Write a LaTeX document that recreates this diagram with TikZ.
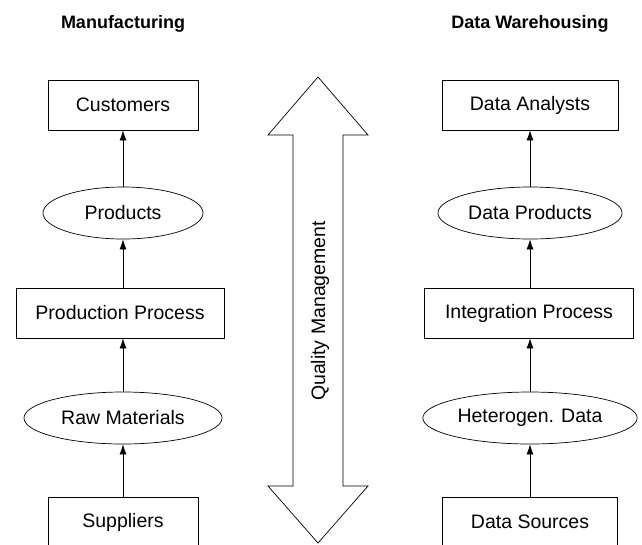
\documentclass[tikz,border=0pt]{standalone}
\usepackage{fontspec}
\setmainfont{Liberation Sans}
\usetikzlibrary{shapes.geometric, arrows.meta}

\begin{document}
\begin{tikzpicture}[x=1pt, y=-1pt,
  font=\fontsize{19.5}{23}\selectfont,
  stage/.style={draw, line width=0.7pt, rectangle, minimum height=50pt},
  goods/.style={draw, line width=0.7pt, ellipse, minimum height=52pt},
  flow/.style={-{Latex[length=10pt,width=7pt]}, line width=0.7pt},
  heading/.style={font=\fontsize{18}{22}\selectfont\bfseries}]
\useasboundingbox (0,0) rectangle (642,544);

% Headings
\node[heading] (hman) at (123,24) {Manufacturing};
\node[heading] (hdw) at (530,24) {Data Warehousing};

% Manufacturing chain
\node[stage, minimum width=150pt] (cust) at (123,105) {Customers};
\node[goods, minimum width=160pt] (prod) at (123,213) {Products};
\node[stage, minimum width=208pt] (proc) at (120,313) {Production Process};
\node[goods, minimum width=198pt] (raw) at (123,418) {Raw Materials};
\node[stage, minimum width=150pt] (supp) at (123,522) {Suppliers};

% Data warehousing chain
\node[stage, minimum width=176pt] (anal) at (530,105) {Data Analysts};
\node[goods, minimum width=180pt] (dprod) at (530,213) {Data Products};
\node[stage, minimum width=209pt] (integ) at (529,313) {Integration Process};
\node[goods, minimum width=202pt] (hetero) at (530,418) {Heterogen. Data};
\node[stage, minimum width=175pt] (src) at (530,522) {Data Sources};

% Flows
\draw[flow] (supp) -- (raw);
\draw[flow] (raw) -- (proc.south -| raw);
\draw[flow] (proc.north -| prod) -- (prod);
\draw[flow] (prod) -- (cust);
\draw[flow] (src) -- (hetero);
\draw[flow] (hetero) -- (integ.south -| hetero);
\draw[flow] (integ.north -| dprod) -- (dprod);
\draw[flow] (dprod) -- (anal);

% Quality management arrow
\draw[line width=0.7pt] (318,77) -- (368,135) -- (343,135) -- (343,486)
  -- (368,486) -- (318,543) -- (268,486) -- (293,486) -- (293,135)
  -- (268,135) -- cycle;
\node[rotate=90] (qm) at (320,311) {Quality Management};
\end{tikzpicture}
\end{document}
